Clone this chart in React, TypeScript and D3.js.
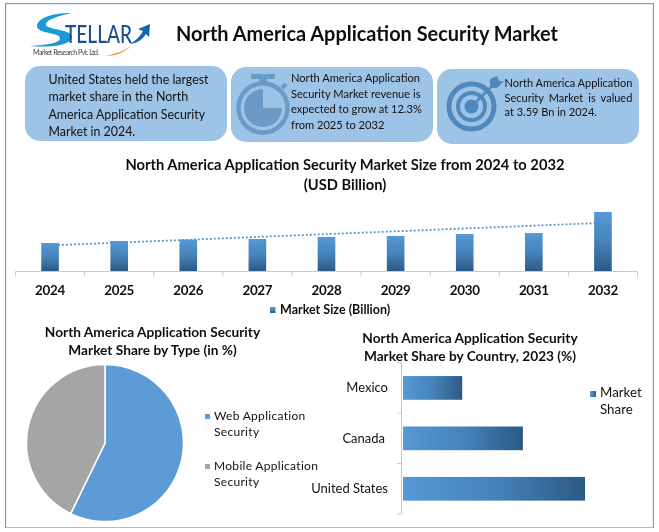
import React from "react";
import * as d3 from "d3";

const mainTitle = "North America Application Security Market";
const box1Lines = ["United States held the largest", "market share in the North", "America Application Security", "Market in 2024."];
const box2Lines = ["North America Application", "Security Market revenue is", "expected to grow at 12.3%", "from 2025 to 2032"];
const box3Lines = ["North America Application", "Security Market is valued", "at 3.59 Bn in 2024."];

const years = ["2024", "2025", "2026", "2027", "2028", "2029", "2030", "2031", "2032"];
const marketSize = [3.59, 3.85, 4.04, 4.1, 4.36, 4.49, 4.74, 4.87, 7.56];
const trendYears = ["2024", "2032"];
const trendValues = [3.28, 6.17];

const typeLabels = ["Web Application Security", "Mobile Application Security"];
const typeShares = [57.2, 42.8];
const typeColors = ["#5B9BD5", "#A5A5A5"];

const countries = ["Mexico", "Canada", "United States"];
const countryShares = [16.4, 33.2, 50.4];

const FONT = "Lato, 'Open Sans', sans-serif";
const TEXT = "#111";
const AXIS = "#c9c9c9";

function Box({ x, y, w, h }: { x: number; y: number; w: number; h: number }) {
  return <rect x={x} y={y} width={w} height={h} rx={15} fill="#9DC3E6" />;
}

function Logo() {
  return (
    <g>
      <path d="M72 13 C50 13 37 19 37 26 C37 34 59 32 60 38 C61 43 46 45 30 46 C52 48 72 45 72 37 C72 29 47 30 46 25 C45 20 58 16 72 13 Z" fill="#1E9AD6" />
      <text x={65} y={43} fontFamily={FONT} fontWeight={500} fontSize={24} fill="#1F4E8C" textLength={67} lengthAdjust="spacingAndGlyphs">TELLAR</text>
      <path d="M130 44 C137 40 141 35 143 31 L138 29 L150 24 L149 37 L146 34 C143 39 138 43 130 44 Z" fill="#1463B0" />
      <path d="M105 56 C116 54 124 51 131 46 C125 52 116 56 105 56 Z" fill="#E58B2E" />
      <text x={33} y={55} fontFamily={FONT} fontSize={7} fill="#444" textLength={66}>Market Research Pvt. Ltd.</text>
    </g>
  );
}

function Stopwatch() {
  const cx = 263, cy = 108;
  const wedge = d3.arc()({ innerRadius: 0, outerRadius: 19, startAngle: Math.PI / 2, endAngle: Math.PI * 2 }) as string;
  const c = "#6A9BC7";
  return (
    <g>
      <circle cx={cx} cy={cy} r={24.5} fill="none" stroke={c} strokeWidth={4.5} />
      <path d={wedge} transform={`translate(${cx},${cy})`} fill={c} />
      <rect x={259} y={78} width={8} height={6} fill={c} />
      <rect x={251} y={74} width={24} height={5} rx={1} fill={c} />
      <path d="M282 88 L286 84" stroke={c} strokeWidth={4} />
    </g>
  );
}

function Target() {
  const cx = 471.5, cy = 106.5;
  const c = "#4F88BD";
  return (
    <g>
      <circle cx={cx} cy={cy} r={22.5} fill="none" stroke={c} strokeWidth={5} />
      <circle cx={cx} cy={cy} r={13.5} fill="none" stroke={c} strokeWidth={4} />
      <circle cx={cx} cy={cy} r={7} fill={c} />
      <path d={`M${cx} ${cy} L493 85`} stroke={c} strokeWidth={2.5} />
      <path d="M490 84 L490 79 L497 76 L499 81 L504 81 L497 88 L492 88 Z" fill={c} />
    </g>
  );
}

export default function App() {
  // column chart
  const baseY = 271;
  const x = d3.scaleBand<string>().domain(years).range([15.5, 637.5]).paddingInner(0.745).paddingOuter(0.3725);
  const y = d3.scaleLinear().domain([0, 7.56]).range([baseY, 212]);
  const step = x.step();
  const edges = d3.range(years.length + 1).map((i) => 15.5 + i * step);
  const trendPath = d3.line<number>()
    .x((_, i) => (x(trendYears[i]) as number) + x.bandwidth() / 2)
    .y((d) => y(d))(trendValues) as string;

  // pie
  const pieData = d3.pie<number>().sort(null)(typeShares);
  const arc = d3.arc<d3.PieArcDatum<number>>().innerRadius(0).outerRadius(78.5);

  // horizontal bars
  const hy = d3.scaleBand<string>().domain(countries).range([362.7, 514]).paddingInner(0.53).paddingOuter(0.265);
  const hx = d3.scaleLinear().domain([0, 50.4]).range([403, 585]);
  const hEdges = d3.range(countries.length + 1).map((i) => 362.7 + i * hy.step());
  const labelEnd = [388, 385, 388];

  return (
    <svg width={659} height={532} viewBox="0 0 659 532" style={{ position: "absolute", left: 0, top: 0, display: "block" }}>
      <defs>
        <linearGradient id="gv" x1="0" y1="0" x2="0" y2="1">
          <stop offset="0" stopColor="#5599D6" />
          <stop offset="0.5" stopColor="#4683BA" />
          <stop offset="1" stopColor="#2B5A85" />
        </linearGradient>
        <linearGradient id="gh" x1="0" y1="0" x2="1" y2="0">
          <stop offset="0" stopColor="#5599D6" />
          <stop offset="0.5" stopColor="#4683BA" />
          <stop offset="1" stopColor="#2B5A85" />
        </linearGradient>
        <filter id="soft" x="0" y="0" width="100%" height="100%">
          <feGaussianBlur stdDeviation="0.3" />
        </filter>
      </defs>
      <rect x={0} y={0} width={659} height={532} fill="#fff" />
      <g filter="url(#soft)">
      <rect x={5.5} y={3.5} width={648} height={524.5} fill="#fff" stroke="#6F9FC2" strokeWidth={1.3} />

      <Logo />
      <text x={176} y={41} fontFamily={FONT} fontWeight={700} fontSize={20} fill="#111" textLength={382} lengthAdjust="spacingAndGlyphs">{mainTitle}</text>

      <Box x={25} y={66} w={202} h={75} />
      <Box x={231} y={67} w={202} h={75} />
      <Box x={437} y={69} w={202} h={75} />
      <Stopwatch />
      <Target />
      {box1Lines.map((t, i) => (
        <text key={t} x={48.5} y={83.5 + i * 17.6} fontFamily={FONT} fontSize={12.4} fill={TEXT}>{t}</text>
      ))}
      {box2Lines.map((t, i) => (
        <text key={t} x={291} y={82 + i * 15.7} fontFamily={FONT} fontSize={11.1} fill={TEXT}>{t}</text>
      ))}
      {box3Lines.map((t, i) => (
        <text key={t} x={504.5} y={87 + i * 14.7} fontFamily={FONT} fontSize={11} fill={TEXT} style={i === 1 ? { wordSpacing: "2.3px" } : undefined}>{t}</text>
      ))}

      <text x={345} y={170} textAnchor="middle" fontFamily={FONT} fontWeight={700} fontSize={14.7} fill={TEXT}>North America Application Security Market Size from 2024 to 2032</text>
      <text x={345} y={190} textAnchor="middle" fontFamily={FONT} fontWeight={700} fontSize={14.7} fill={TEXT}>(USD Billion)</text>

      <path d={trendPath} fill="none" stroke="#4F8FC9" strokeWidth={1.8} strokeDasharray="1.8 2.2" />
      {years.map((yr, i) => (
        <rect key={yr} x={x(yr)} y={y(marketSize[i])} width={x.bandwidth()} height={baseY - y(marketSize[i])} fill="url(#gv)" />
      ))}
      <line x1={15.5} x2={637.5} y1={271.5} y2={271.5} stroke={AXIS} />
      {edges.map((e) => (
        <line key={e} x1={e} x2={e} y1={271.5} y2={276.5} stroke={AXIS} />
      ))}
      {years.map((yr) => (
        <text key={yr} x={(x(yr) as number) + x.bandwidth() / 2} y={295} textAnchor="middle" fontFamily={FONT} fontWeight={700} fontSize={13.4} letterSpacing={-0.3} fill={TEXT}>{yr}</text>
      ))}
      <rect x={270} y={307} width={5.5} height={6} fill="url(#gv)" />
      <text x={280} y={314} fontFamily={FONT} fontWeight={700} fontSize={12.5} fill={TEXT}>Market Size (Billion)</text>

      <text x={152.5} y={337} textAnchor="middle" fontFamily={FONT} fontWeight={700} fontSize={13.7} fill={TEXT}>North America Application Security</text>
      <text x={152.5} y={355} textAnchor="middle" fontFamily={FONT} fontWeight={700} fontSize={13.7} fill={TEXT}>Market Share by Type (in %)</text>
      <g transform="translate(105,443)">
        {pieData.map((d, i) => (
          <path key={i} d={arc(d) as string} fill={typeColors[i]} stroke="#fff" strokeWidth={1.5} />
        ))}
      </g>
      {typeLabels.map((label, i) => {
        const dy = i * 50;
        const head = label.replace(" Security", "");
        return (
          <g key={label}>
            <rect x={205} y={414 + dy} width={5} height={5} fill={typeColors[i]} />
            <text x={214} y={420 + dy} fontFamily={FONT} fontSize={12} letterSpacing={0.3} fill={TEXT}>{head}</text>
            <text x={214} y={436 + dy} fontFamily={FONT} fontSize={12} letterSpacing={0.3} fill={TEXT}>Security</text>
          </g>
        );
      })}

      <text x={470} y={343} textAnchor="middle" fontFamily={FONT} fontWeight={700} fontSize={13.7} fill={TEXT}>North America Application Security</text>
      <text x={470} y={361} textAnchor="middle" fontFamily={FONT} fontWeight={700} fontSize={13.7} fill={TEXT}>Market Share by Country, 2023 (%)</text>
      <line x1={401.5} x2={401.5} y1={362.7} y2={514} stroke={AXIS} />
      {hEdges.map((e) => (
        <line key={e} x1={397} x2={401.5} y1={e} y2={e} stroke={AXIS} />
      ))}
      {countries.map((c, i) => (
        <g key={c}>
          <rect x={hx(0)} y={hy(c)} width={hx(countryShares[i]) - hx(0)} height={hy.bandwidth()} fill="url(#gh)" />
          <text x={labelEnd[i]} y={(hy(c) as number) + hy.bandwidth() / 2 + 4.5} textAnchor="end" fontFamily={FONT} fontSize={13} fill={TEXT}>{c}</text>
        </g>
      ))}
      <rect x={590} y={391} width={6} height={6} fill="url(#gh)" />
      <text x={600} y={397} fontFamily={FONT} fontSize={13.3} fill={TEXT}>Market</text>
      <text x={600} y={414} fontFamily={FONT} fontSize={13.3} fill={TEXT}>Share</text>
      </g>
    </svg>
  );
}
